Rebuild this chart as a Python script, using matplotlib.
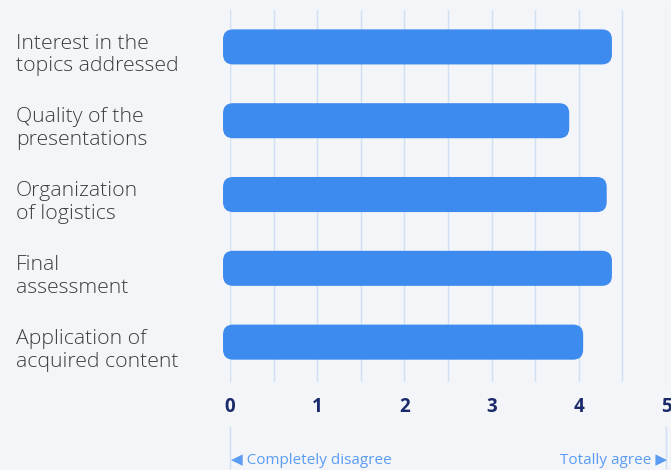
import matplotlib
matplotlib.use("Agg")
import matplotlib.pyplot as plt
from matplotlib.patches import FancyBboxPatch
import matplotlib.transforms as mtransforms

categories = ["Interest in the\ntopics addressed", "Quality of the\npresentations",
              "Organization\nof logistics", "Final\nassessment",
              "Application of\nacquired content"]
values = [4.38, 3.89, 4.32, 4.38, 4.05]
xticks = [0, 1, 2, 3, 4, 5]
left_note = "\u25C0 Completely disagree"
right_note = "Totally agree \u25B6"

BG = "#f3f5f8"
BAR = "#3e8bef"
GRID = "#cfe0f6"
NAVY = "#1b2a6b"
NOTE = "#5b9cf2"
W, H = 671, 470

plt.rcParams['font.family'] = ['Open Sans', 'DejaVu Sans']
fig = plt.figure(figsize=(W / 100, H / 100), dpi=100, facecolor=BG)
ax = fig.add_axes([230 / W, (H - 382) / H, (666 - 230) / W, (382 - 10) / H])
ax.set_facecolor(BG)
ax.set_xlim(0, 5)
ax.set_ylim(4.54, -0.5)

for x in [i * 0.5 for i in range(11)]:
    ax.axvline(x, color=GRID, lw=1, zorder=0)

ypos = list(range(len(categories)))
start = -0.08
bars = ax.barh(ypos, [v - start for v in values], height=0.475, left=start, color=BAR)
xunit = (666 - 230) / 5
yunit = (382 - 10) / 5.04
r = 10 / xunit
aspect = (10 / yunit) / r
for b in bars:
    x0, y0, w, h = b.get_x(), b.get_y(), b.get_width(), b.get_height()
    b.set_visible(False)
    p = FancyBboxPatch((x0, y0), w, h, boxstyle=f"round,pad=0,rounding_size={r}",
                       mutation_aspect=aspect, facecolor=BAR, edgecolor="none",
                       zorder=2, clip_on=False)
    ax.add_patch(p)

for s in ax.spines.values():
    s.set_visible(False)
ax.set_yticks([])
ax.set_xticks(xticks)
ax.set_xticklabels([str(t) for t in xticks], fontweight='bold', fontsize=13.5, color=NAVY)
ax.tick_params(axis='x', length=0, pad=11)

trans = mtransforms.blended_transform_factory(fig.transFigure, ax.transData)
for y, c in zip(ypos, categories):
    ax.text(16 / W, y + 0.11, c, transform=trans, ha='left', va='center', fontsize=15.3,
            color='#3d3d3d', fontweight='light', linespacing=1.18)

# bottom notes
for xf in [230 / W, 666 / W]:
    fig.add_artist(plt.Line2D([xf, xf], [0, (H - 427) / H], color=GRID, lw=1))
fig.text(231 / W, (H - 460) / H, left_note, ha='left', va='center', fontsize=11,
         color=NOTE, family=['Open Sans', 'DejaVu Sans'])
fig.text(667 / W, (H - 460) / H, right_note, ha='right', va='center', fontsize=11,
         color=NOTE, family=['Open Sans', 'DejaVu Sans'])

fig.savefig("out.png", dpi=100, facecolor=BG)
